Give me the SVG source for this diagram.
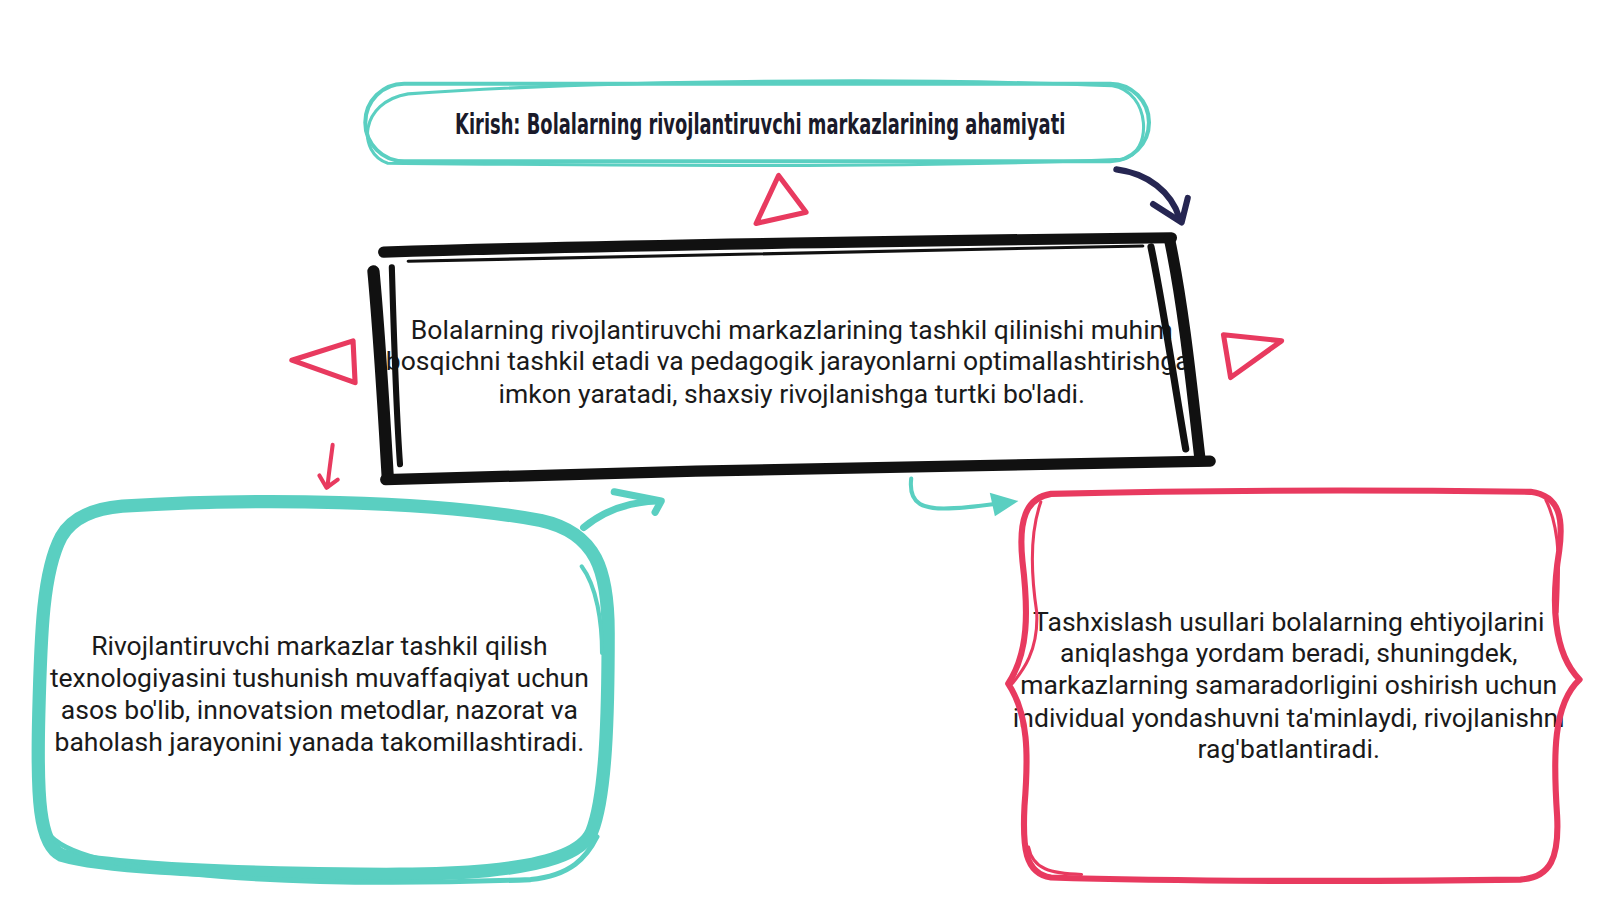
<svg xmlns="http://www.w3.org/2000/svg" width="1600" height="900" viewBox="0 0 1600 900">
<style>
.teal{fill:none;stroke:#5acfc1;stroke-linecap:round;stroke-linejoin:round}
.red{fill:none;stroke:#e83a5f;stroke-linecap:round;stroke-linejoin:round}
.blk{fill:none;stroke:#111;stroke-linecap:round;stroke-linejoin:round}
.body{font-family:Roboto,"Liberation Sans",sans-serif;font-size:26px;fill:#1a1a1a;text-anchor:middle}
.title{font-family:"DejaVu Sans Condensed","DejaVu Sans",sans-serif;font-weight:bold;font-size:27px;fill:#1a1a2a;text-anchor:middle}
</style>
<rect width="1600" height="900" fill="#ffffff"/>
<g transform="scale(1.0204)">
<g id="connectors">
  <polygon class="red" stroke-width="5" points="763,172 741,219 790,208"/>
  <polygon class="red" stroke-width="5" points="286,353 346,334 348,375"/>
  <polygon class="red" stroke-width="5" points="1199,328 1256,334 1206,370"/>
  <path d="M1094,166 C1125,170 1148,188 1156,214" fill="none" stroke="#262652" stroke-width="6" stroke-linecap="round"/>
  <path d="M1130,200 L1158,218 L1164,194" fill="none" stroke="#262652" stroke-width="6" stroke-linecap="round" stroke-linejoin="round"/>
  <path class="red" stroke-width="4" d="M326,436 C324,452 322,465 321,477"/>
  <path class="red" stroke-width="4" d="M313,466 L320,478 L331,470"/>
  <path class="teal" stroke-width="7" d="M572,517 C590,502 612,492 644,491"/>
  <path class="teal" stroke-width="7" d="M602,482 L648,491 L642,502"/>
  <path class="teal" stroke-width="4" d="M893,469 C890,495 905,500 935,498 C955,497 972,494 990,492"/>
  <path fill="#5acfc1" stroke="none" d="M970,483 L998,491 L975,506 Z"/>
</g>

<g id="node-title">
  <rect class="teal" stroke-width="4" x="358" y="82" width="768" height="76" rx="38"/>
  <path class="teal" stroke-width="3" d="M400,92 C600,78 900,76 1090,84 C1128,90 1130,150 1100,156 C900,165 600,162 380,160 C350,150 352,100 400,92"/>
  <text class="title" x="745" y="131" textLength="598" lengthAdjust="spacingAndGlyphs">Kirish: Bolalarning rivojlantiruvchi markazlarining ahamiyati</text>
</g>

<g id="node-center">
  <text class="body" x="776" y="332">Bolalarning rivojlantiruvchi markazlarining tashkil qilinishi muhim</text>
  <text class="body" x="772" y="363">bosqichni tashkil etadi va pedagogik jarayonlarni optimallashtirishga</text>
  <text class="body" x="776" y="395">imkon yaratadi, shaxsiy rivojlanishga turtki bo'ladi.</text>
  <path class="blk" stroke-width="11" d="M376,247 C600,240 900,236 1148,233"/>
  <path class="blk" stroke-width="3" d="M400,256 C650,250 900,245 1120,241"/>
  <path class="blk" stroke-width="12" d="M366,266 C372,330 376,400 380,468"/>
  <path class="blk" stroke-width="6" d="M384,262 C386,330 388,400 392,455"/>
  <path class="blk" stroke-width="11" d="M1146,234 C1160,300 1168,380 1176,450"/>
  <path class="blk" stroke-width="7" d="M1128,242 C1140,300 1150,370 1162,440"/>
  <path class="blk" stroke-width="11" d="M378,470 C650,462 900,456 1186,452"/>
</g>

<g id="node-left">
  <path class="teal" stroke-width="13" d="M120,496 C250,488 420,490 530,510 C585,522 596,560 596,620 C596,700 594,780 580,815 C560,860 420,858 300,856 C200,854 100,850 60,838 C38,828 36,780 38,700 C40,620 42,560 60,526 C72,505 95,498 120,496 Z"/>
  <path class="teal" stroke-width="5" d="M50,820 C90,860 300,870 520,862 C560,858 575,840 585,820"/>
  <path class="teal" stroke-width="4" d="M570,555 C585,575 590,610 590,640"/>
  <text class="body" x="313" y="642">Rivojlantiruvchi markazlar tashkil qilish</text>
  <text class="body" x="313" y="673">texnologiyasini tushunish muvaffaqiyat uchun</text>
  <text class="body" x="313" y="705">asos bo'lib, innovatsion metodlar, nazorat va</text>
  <text class="body" x="313" y="736">baholash jarayonini yanada takomillashtiradi.</text>
</g>

<g id="node-right">
  <text class="body" x="1263" y="618">Tashxislash usullari bolalarning ehtiyojlarini</text>
  <text class="body" x="1263" y="649">aniqlashga yordam beradi, shuningdek,</text>
  <text class="body" x="1263" y="680">markazlarning samaradorligini oshirish uchun</text>
  <text class="body" x="1263" y="712">individual yondashuvni ta'minlaydi, rivojlanishni</text>
  <text class="body" x="1263" y="743">rag'batlantiradi.</text>
  <path class="red" stroke-width="6" d="M1030,484 C1200,480 1350,480 1500,482 C1530,486 1532,510 1528,540 C1520,590 1522,640 1548,666 C1522,690 1522,740 1526,800 C1528,840 1520,860 1490,862 C1350,864 1150,864 1030,860 C1004,856 1002,830 1004,790 C1008,740 1008,700 988,670 C1008,640 1008,600 1002,550 C998,510 1005,488 1030,484 Z"/>
  <path class="red" stroke-width="3" d="M1020,492 C1010,520 1010,560 1016,600 C1018,640 1000,660 992,670"/>
  <path class="red" stroke-width="3" d="M1515,490 C1530,520 1528,560 1526,600"/>
  <path class="red" stroke-width="3" d="M1008,830 C1012,852 1030,856 1060,857"/>
</g>
</g>
</svg>
